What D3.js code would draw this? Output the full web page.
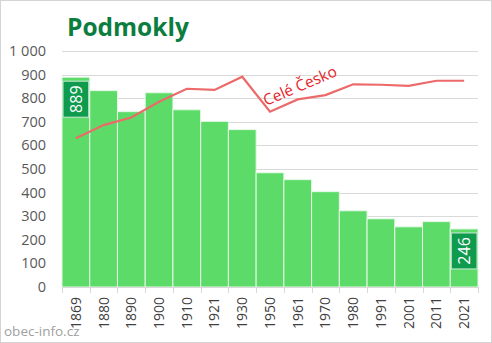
<!DOCTYPE html>
<html>
<head>
<meta charset="utf-8">
<script src="https://cdn.jsdelivr.net/npm/d3@7"></script>
<style>
  html, body { margin: 0; padding: 0; background: #fff; }
  svg { display: block; font-family: "Open Sans", "Noto Sans", sans-serif; }
</style>
</head>
<body>
<svg id="chart" width="492" height="343"></svg>
<script>
// Population of Podmokly by census year
const years = ["1869", "1880", "1890", "1900", "1910", "1921", "1930", "1950", "1961", "1970", "1980", "1991", "2001", "2011", "2021"];
const population = [889, 832, 743, 823, 751, 702, 667, 484, 455, 404, 323, 289, 255, 277, 246];
// Whole-country trend, rescaled to the same axis
const czechia = [630, 686, 718, 785, 840, 835, 891, 743, 795, 813, 859, 857, 852, 874, 874];
const yTicks = [0, 100, 200, 300, 400, 500, 600, 700, 800, 900, 1000];
const labelled = ["1869", "2021"];

const svg = d3.select("#chart");
const W = 492, H = 343;
const margin = { left: 62, right: 14, top: 51, bottom: 56 };

// outer frame
svg.append("rect")
  .attr("x", 0.5).attr("y", 0.5)
  .attr("width", W - 1).attr("height", H - 1)
  .attr("fill", "#fff").attr("stroke", "#d4d4d4");

const x = d3.scaleBand().domain(years)
  .range([margin.left, W - margin.right]).padding(0);
const y = d3.scaleLinear().domain([0, 1000])
  .range([H - margin.bottom, margin.top]);

// gridlines
svg.append("g")
  .selectAll("line").data(yTicks.slice(1)).join("line")
  .attr("x1", margin.left).attr("x2", W - margin.right)
  .attr("y1", d => Math.round(y(d)) + 0.5).attr("y2", d => Math.round(y(d)) + 0.5)
  .attr("stroke", "#d9d9d9").attr("stroke-width", 1);

// y axis labels
const fmt = d => d >= 1000 ? d3.format(",")(d).replace(",", " ") : String(d);
svg.append("g")
  .selectAll("text").data(yTicks).join("text")
  .attr("x", 46).attr("y", d => y(d))
  .attr("dy", "0.35em")
  .attr("text-anchor", "end")
  .attr("font-size", 14.5)
  .attr("fill", "#595959")
  .text(fmt);

// bars
svg.append("g")
  .selectAll("rect").data(years).join("rect")
  .attr("x", d => x(d)).attr("width", x.bandwidth())
  .attr("y", (d, i) => y(population[i]))
  .attr("height", (d, i) => y(0) - y(population[i]))
  .attr("fill", "#5cdb68")
  .attr("stroke", "#e6f8e8").attr("stroke-width", 1);

// x axis
const xAxis = svg.append("g")
  .attr("transform", `translate(0,${y(0)})`);
xAxis.append("line")
  .attr("x1", margin.left).attr("x2", W - margin.right)
  .attr("y1", 0.5).attr("y2", 0.5)
  .attr("stroke", "#d9d9d9");
const bounds = years.map(d => x(d)).concat([x(years[years.length - 1]) + x.bandwidth()]);
xAxis.selectAll("line.tick").data(bounds).join("line")
  .attr("class", "tick")
  .attr("x1", d => Math.round(d) + 0.5).attr("x2", d => Math.round(d) + 0.5)
  .attr("y1", 0).attr("y2", 6)
  .attr("stroke", "#d9d9d9");
xAxis.selectAll("text").data(years).join("text")
  .attr("transform", d => `translate(${x(d) + x.bandwidth() / 2},10) rotate(-90)`)
  .attr("text-anchor", "end")
  .attr("dy", "0.35em")
  .attr("font-size", 14)
  .attr("fill", "#404040")
  .text(d => d);

// value boxes on first and last bars
const boxes = svg.append("g");
labelled.forEach(yr => {
  const i = years.indexOf(yr);
  const top = y(population[i]);
  const bx = x(yr) + 1, bw = x.bandwidth() - 2, by = top + 4, bh = 36;
  boxes.append("rect")
    .attr("x", bx).attr("y", by).attr("width", bw).attr("height", bh)
    .attr("fill", "#0f9b4e").attr("stroke", "#cfe9d6").attr("stroke-width", 1);
  boxes.append("text")
    .attr("transform", `translate(${bx + bw / 2},${by + bh / 2}) rotate(-90)`)
    .attr("text-anchor", "middle").attr("dy", "0.36em")
    .attr("font-size", 16).attr("fill", "#fff")
    .text(population[i]);
});

// country trend line
const line = d3.line()
  .x((d, i) => x(years[i]) + x.bandwidth() / 2)
  .y(d => y(d));
svg.append("path")
  .datum(czechia)
  .attr("d", line)
  .attr("fill", "none")
  .attr("stroke", "#ec6a6a")
  .attr("stroke-width", 2.2);

svg.append("text")
  .attr("transform", "translate(266,106) rotate(-23)")
  .attr("font-size", 15.5)
  .attr("fill", "#e3262b")
  .text("Celé Česko");

// title
svg.append("text")
  .attr("x", 67).attr("y", 36)
  .attr("font-size", 24.5).attr("font-weight", "bold")
  .attr("fill", "#0b7d3e")
  .text("Podmokly");

// source
svg.append("text")
  .attr("x", 4).attr("y", 336)
  .attr("font-size", 13.5).attr("fill", "#a0a0a0")
  .text("obec-info.cz");
</script>
</body>
</html>
